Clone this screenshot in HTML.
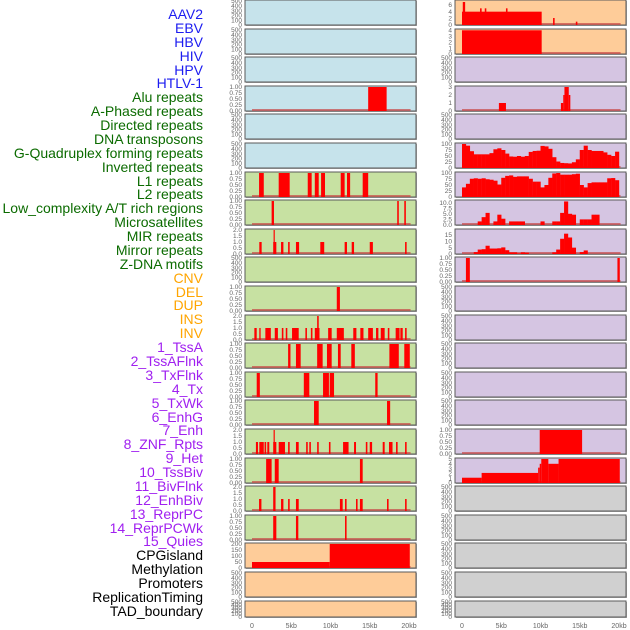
<!DOCTYPE html>
<html><head><meta charset="utf-8"><style>
body{margin:0;background:#fff;width:630px;height:630px;overflow:hidden}
.lab{position:absolute;right:427px;font:14px "Liberation Sans",sans-serif;white-space:nowrap;line-height:14px}
</style></head><body>
<div id="labels"></div>
<svg id="chart" width="630" height="630" style="position:absolute;left:0;top:0"></svg>
<script>
// ---------- labels ----------
const labelNames=["AAV2","EBV","HBV","HIV","HPV","HTLV-1","Alu repeats","A-Phased repeats","Directed repeats","DNA transposons","G-Quadruplex forming repeats","Inverted repeats","L1 repeats","L2 repeats","Low_complexity A/T rich regions","Microsatellites","MIR repeats","Mirror repeats","Z-DNA motifs","CNV","DEL","DUP","INS","INV","1_TssA","2_TssAFlnk","3_TxFlnk","4_Tx","5_TxWk","6_EnhG","7_Enh","8_ZNF_Rpts","9_Het","10_TssBiv","11_BivFlnk","12_EnhBiv","13_ReprPC","14_ReprPCWk","15_Quies","CPGisland","Methylation","Promoters","ReplicationTiming","TAD_boundary"];
const labelGroups=[6,13,5,15,5];
const groupColors=["#1c1cf0","#0b6b00","#ffa500","#a020f0","#000"];
// ---------- tick labels ----------
const ticksEmpty=[0,100,200,300,400,500];
const ticksFrac=[0,0.25,0.5,0.75,1];
const ticksTwo=[0,0.5,1,1.5,2];
const ticksCpg=[0,50,100,150,200];
const ticksAav=[0,2,4,6];
const ticksEbv=[0,1,2,3,4];
const ticksAluR=[0,1,2,3];
const ticksPct=[0,25,50,75,100];
const ticksLow=[0,2.5,5,7.5,10];
const ticksMicro=[0,5,10,15];
const ticksHet=[0,1,2,3,4,5];
const xTicks=[0,5000,10000,15000,20000];
const xTickLabels=["0","5kb","10kb","15kb","20kb"];
// ---------- data: segments [startKb,endKb,value] ----------
const leftAlu=[[14.8,17.15,1]];
const leftL1=[[0.9,1.5,1],[3.4,4.8,1],[7.1,7.6,1],[8.0,8.5,1],[8.8,9.3,1],[11.3,11.8,1],[12.1,12.5,1],[14.1,14.8,1]];
const leftLowComp=[[2.5,2.8,1],[18.5,18.7,1],[19.4,19.6,1]];
const leftMir=[[0.93,1.23,1],[2.7,3.1,1],[2.75,2.9,2],[3.7,4.0,1],[4.6,4.8,1],[5.6,6.0,1],[8.7,9.2,1],[11.8,12.1,1],[12.7,13.0,1],[15.0,15.4,1],[19.5,19.7,1]];
const leftCnv=[[10.8,11.2,1]];
const leftInv=[[0.3,0.6,1],[0.93,1.1,1],[1.7,2.4,1],[2.9,3.3,1],[3.8,4.0,1],[4.3,4.5,1],[5.1,5.95,1],[6.8,7.0,1],[7.5,7.7,1],[8.0,8.6,1],[8.3,8.5,2],[9.7,10.15,1],[10.8,11.7,1],[12.9,13.3,1],[13.8,14.2,1],[14.8,15.4,1],[15.8,16.1,1],[16.4,16.9,1],[17.3,17.5,1],[18.3,18.8,1],[18.9,19.2,1],[19.5,19.7,1]];
const leftTssA=[[4.6,4.9,1],[5.6,6.2,1],[8.3,9.0,1],[9.55,10.15,1],[10.95,11.3,1],[12.65,13.1,1],[17.5,18.7,1],[19.4,20.1,1]];
const leftTxFlnk=[[0.6,1.0,1],[6.6,7.3,1],[9.05,9.8,1],[9.9,10.45,1],[15.7,16.0,1]];
const leftTxWk=[[7.9,8.5,1],[17.2,17.6,1]];
const leftEnh=[[0.5,0.76,1],[0.93,1.5,1],[1.6,1.8,1],[1.95,2.2,1],[2.7,3.1,1],[2.75,2.9,2],[3.4,4.2,1],[4.6,4.8,1],[5.6,5.95,1],[6.9,7.1,1],[7.3,7.5,1],[8.3,8.5,1],[9.8,10.0,1],[11.6,12.3,1],[13.0,13.25,1],[14.5,14.7,1],[15.0,15.3,1],[16.65,16.9,1],[17.45,17.9,1],[18.35,18.55,1],[19.5,19.7,1]];
const leftHet=[[1.8,2.5,1],[2.9,3.4,1],[13.75,14.1,1]];
const leftBivFlnk=[[0.9,1.2,1],[2.7,3.0,2],[3.7,4.0,1],[4.6,4.8,1],[5.6,5.95,1],[11.2,11.55,1],[11.85,12.05,1],[13.25,13.45,1],[13.75,14.1,1],[17.2,17.4,1],[19.5,19.7,1]];
const leftReprPC=[[2.7,3.1,1],[5.6,5.9,1],[11.85,12.05,1]];
const leftCpg=[[0,9.9,50],[9.9,20.1,200]];
const rightAav=[[0,10.15,4],[0.1,0.4,6.9],[2.3,2.5,5],[2.9,3.1,5],[5.6,5.8,5],[11.6,11.8,2.1],[14.5,14.7,1]];
const rightEbv=[[0,10.15,4]];
const rightAlu=[[4.7,5.6,1],[12.6,12.9,1],[12.9,13.05,2],[13.05,13.6,3],[13.6,13.8,2]];
const rightZdna=[[0.5,1.0,1],[19.8,20.1,1]];
const rightZnf=[[9.9,15.3,1]];
const rightHet=[[0,2.5,1.1],[2.5,9.7,2.1],[9.7,9.9,3.2],[9.9,10.1,4],[10.1,11.0,5],[11.0,12.3,4],[12.3,20.1,5]];
// ---------- data: profiles, 0.5kb bins starting at 0 ----------
const rightGQuad=[100,93,70,57,57,57,57,62,78,82,75,60,48,47,50,47,50,67,71,72,92,90,80,45,27,21,20,19,24,36,75,93,75,71,71,71,65,55,50,68];
const rightInverted=[40,55,76,78,76,78,74,72,68,52,80,88,90,84,86,86,86,76,64,64,40,50,80,98,100,93,93,93,95,97,50,40,58,61,61,61,61,78,79,70];
const rightLowComp=[0,0,0,0,1.6,3.5,5.4,0,1.6,4.6,2.8,0,1.6,1.6,1.6,1.6,0,0,0,0,1.6,0,0,1.6,1.6,5.4,10.5,5.0,4.6,0,2.5,2.5,2.5,4.6,4.6,0,0,0,0,0];
const rightMicro=[0,0,0,1.5,3.5,3.8,6.5,4.3,4.3,4.5,5.2,3,1.3,1.3,0.5,1.3,1.0,0,0,0,0,0,0,1.3,3.5,12,16,13,5,0,1.5,2.8,0,0,0,0,0,0,0,0];

// ---------- layout ----------
const BLUE="#c6e3eb",GREEN="#c7e1a2",PEACH="#fecc99",PURPLE="#d5c5e2",GRAY="#d0d0d0";
const leftPanels=[
 [BLUE,ticksEmpty,null,500],[BLUE,ticksEmpty,null,500],[BLUE,ticksEmpty,null,500],[BLUE,ticksFrac,leftAlu,1],[BLUE,ticksEmpty,null,500],[BLUE,ticksEmpty,null,500],
 [GREEN,ticksFrac,leftL1,1],[GREEN,ticksFrac,leftLowComp,1],[GREEN,ticksTwo,leftMir,2],[GREEN,ticksEmpty,null,500],[GREEN,ticksFrac,leftCnv,1],[GREEN,ticksTwo,leftInv,2],
 [GREEN,ticksFrac,leftTssA,1],[GREEN,ticksFrac,leftTxFlnk,1],[GREEN,ticksFrac,leftTxWk,1],[GREEN,ticksTwo,leftEnh,2],[GREEN,ticksFrac,leftHet,1],[GREEN,ticksTwo,leftBivFlnk,2],[GREEN,ticksFrac,leftReprPC,1],
 [PEACH,ticksCpg,leftCpg,200],[PEACH,ticksEmpty,null,500],[PEACH,ticksEmpty,null,500]];
const rightPanels=[
 [PEACH,ticksAav,rightAav,7.2],[PEACH,ticksEbv,rightEbv,4.05],[PURPLE,ticksEmpty,null,500],[PURPLE,ticksAluR,rightAlu,3],[PURPLE,ticksEmpty,null,500],
 [PURPLE,ticksPct,rightGQuad,100],[PURPLE,ticksPct,rightInverted,100],[PURPLE,ticksLow,rightLowComp,10.7],[PURPLE,ticksMicro,rightMicro,18.9],[PURPLE,ticksFrac,rightZdna,1],
 [PURPLE,ticksEmpty,null,500],[PURPLE,ticksEmpty,null,500],[PURPLE,ticksEmpty,null,500],[PURPLE,ticksEmpty,null,500],[PURPLE,ticksEmpty,null,500],
 [PURPLE,ticksFrac,rightZnf,1],[PURPLE,ticksHet,rightHet,5],
 [GRAY,ticksEmpty,null,500],[GRAY,ticksEmpty,null,500],[GRAY,ticksEmpty,null,500],[GRAY,ticksEmpty,null,500],[GRAY,ticksEmpty,null,500]];

const NS="http://www.w3.org/2000/svg";
const svg=document.getElementById('chart');
function mk(tag,attrs,parent){const e=document.createElementNS(NS,tag);for(const k in attrs)e.setAttribute(k,attrs[k]);(parent||svg).appendChild(e);return e;}
function fmt(t,arr){if(arr===ticksFrac)return t.toFixed(2);if(arr===ticksTwo||arr===ticksLow)return t.toFixed(1);return String(t);}

// labels
const labDiv=document.getElementById('labels');
let li=0;
labelGroups.forEach((n,g)=>{for(let k=0;k<n;k++){const d=document.createElement('div');d.className='lab';d.style.top=(7+li*13.88)+'px';d.style.color=groupColors[g];d.textContent=labelNames[li];


labDiv.appendChild(d);li++;}});

function drawPanel(side,i,cfg){
  const [bg,ticks,data,ymax]=cfg;
  const L=side===0?245:455, W=171;
  const T=Math.round(i*28.6), H=(i===21)?16:25;
  const B=T+H;
  const x0=L+7;
  const xs=kb=>x0+kb*7.85;
  const ys=v=>B-(v/ymax)*(H-1);
  const g=mk('g',{});
  
  
  mk('rect',{x:L+1,y:T+1,width:W,height:H,fill:'#aaa'},g);
  mk('rect',{x:L,y:T,width:W,height:H,fill:bg,stroke:'#5a5a5a','stroke-width':1},g);
  ticks.forEach(t=>{
    const tx=mk('text',{x:L-3,y:ys(t)+2.2,'text-anchor':'end','font-size':6.5,fill:'#666','font-family':'Liberation Sans, sans-serif'},g);
    tx.textContent=fmt(t,ticks);
    
    
  });
  if(data){
    mk('line',{x1:xs(0),x2:xs(20.2),y1:B-1,y2:B-1,stroke:'rgba(200,70,70,0.7)','stroke-width':2},g);
    if(typeof data[0]==='number'){
      data.forEach((v,k)=>{if(v<=0)return;
        const r=mk('rect',{x:xs(k*0.5),y:ys(v),width:xs((k+1)*0.5)-xs(k*0.5)+0.2,height:B-ys(v),fill:'#ff0000'},g);
        
        
      });
    } else {
      data.forEach(s=>{
        const r=mk('rect',{x:xs(s[0]),y:ys(s[2]),width:Math.max(1,xs(s[1])-xs(s[0])),height:B-ys(s[2]),fill:'#ff0000'},g);
        
        
      });
    }
  }
}
leftPanels.forEach((c,i)=>drawPanel(0,i,c));
rightPanels.forEach((c,i)=>drawPanel(1,i,c));
[252,462].forEach(x0=>{
  xTicks.forEach((t,k)=>{
    const tx=mk('text',{x:x0+t/1000*7.85,y:628,'text-anchor':'middle','font-size':7,fill:'#666','font-family':'Liberation Sans, sans-serif'});
    tx.textContent=xTickLabels[k];
    
    
  });
});
</script>
</body></html>
